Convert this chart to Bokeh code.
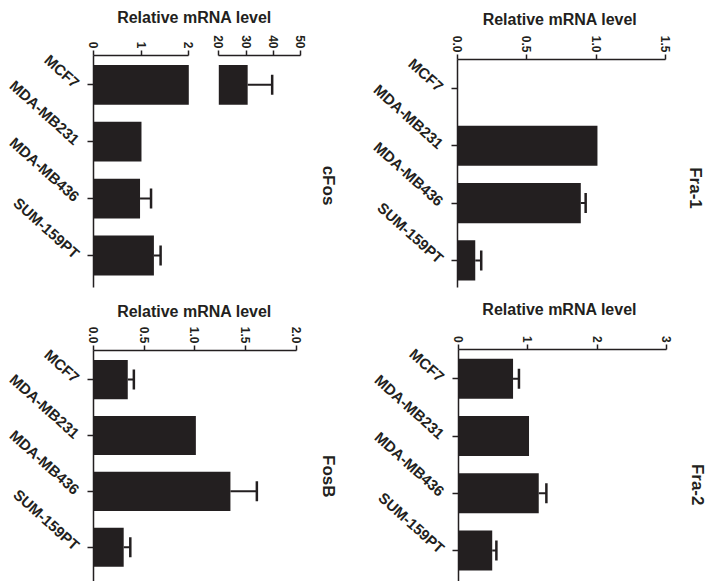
import numpy as np
from bokeh.plotting import figure
from bokeh.models import (Range1d, LinearAxis, FixedTicker, Whisker, ColumnDataSource,
                          TeeHead, NumeralTickFormatter, Label)
from bokeh.layouts import row, column
from bokeh.embed import file_html
from bokeh.resources import INLINE

# ---------------- data ----------------
cells = ["MCF7", "MDA-MB231", "MDA-MB436", "SUM-159PT"]

fra1_mean = [0.0, 1.01, 0.89, 0.13]
fra1_err = [0.0, 0.0, 0.035, 0.043]
fra1_ticks = [0.0, 0.5, 1.0, 1.5]

fra2_mean = [0.79, 1.02, 1.16, 0.49]
fra2_err = [0.085, 0.0, 0.11, 0.06]
fra2_ticks = [0, 1, 2, 3]

cfos_mean = [30.6, 1.01, 0.98, 1.27]
cfos_err = [9.0, 0.0, 0.23, 0.14]
cfos_ticks_low = [0, 1, 2]
cfos_ticks_high = [20, 30, 40, 50]
cfos_break = (2, 20)

fosb_mean = [0.34, 1.01, 1.35, 0.30]
fosb_err = [0.06, 0.0, 0.26, 0.065]
fosb_ticks = [0.0, 0.5, 1.0, 1.5, 2.0]

axis_title = "Relative mRNA level"
panel_titles = ["cFos", "FosB", "Fra-1", "Fra-2"]

# ---------------- style ----------------
FONT = "Liberation Sans"
INK = "#231f20"
BAR_H = 0.7
ypos = list(range(len(cells)))


def style_axis_common(ax):
    ax.major_label_text_font = FONT
    ax.major_label_text_font_style = "bold"
    ax.major_label_text_color = INK
    ax.major_tick_in = 0
    ax.minor_tick_out = 0
    ax.minor_tick_in = 0
    ax.axis_line_width = 1.5
    ax.major_tick_line_width = 1.5
    ax.axis_line_color = INK
    ax.major_tick_line_color = INK


def style_value_axis(ax, ticks, fmt):
    style_axis_common(ax)
    ax.ticker = FixedTicker(ticks=ticks)
    ax.formatter = NumeralTickFormatter(format=fmt)
    ax.major_label_orientation = -np.pi / 2
    ax.major_label_text_font_size = "12px"
    ax.major_label_standoff = 2
    ax.major_tick_out = 5


def style_cat_axis(ax):
    style_axis_common(ax)
    ax.ticker = FixedTicker(ticks=ypos)
    ax.major_label_overrides = {i: c for i, c in enumerate(cells)}
    ax.major_label_orientation = -0.733
    ax.major_label_text_font_size = "15px"
    ax.major_label_standoff = 10
    ax.major_tick_out = 6


class Panel:
    """A figure whose frame covers the whole canvas; axes are pinned with fixed_location."""

    def __init__(self, width, height, x0, x_end_px, x_end_val, axis_y, spacing, pad, cat_bottom):
        self.x0, self.axis_y, self.spacing, self.pad = x0, axis_y, spacing, pad
        self.upp = x_end_val / (x_end_px - x0)
        p = figure(width=width, height=height, output_backend="svg", toolbar_location=None,
                   x_axis_location="above",
                   x_range=Range1d(self.dx(0), self.dx(width)),
                   y_range=Range1d(self.dy(height), self.dy(0)),
                   min_border=0)
        p.grid.visible = False
        p.outline_line_color = None
        p.background_fill_color = None
        p.border_fill_color = None
        yax = p.yaxis[0]
        style_cat_axis(yax)
        yax.fixed_location = 0
        yax.bounds = (-pad, self.dy(cat_bottom))
        self.p = p

    def dx(self, px):
        return (px - self.x0) * self.upp

    def dy(self, py):
        return -self.pad + (py - self.axis_y) / self.spacing

    def label(self, text, px, py, size, angle=0.0, **kw):
        self.p.add_layout(Label(x=self.dx(px), y=self.dy(py), text=text, angle=angle,
                                text_align="center", text_baseline="middle",
                                text_font=FONT, text_font_style="bold",
                                text_font_size=size, text_color=INK, **kw))

    def titles(self, name, title_xy, name_xy):
        self.label(axis_title, title_xy[0], title_xy[1], "16px")
        self.label(name, name_xy[0], name_xy[1], "17px", angle=-np.pi / 2)


def add_errors(p, idx, mean, err, **kw):
    keep = [i for i in idx if err[i] > 0]
    src = ColumnDataSource(dict(base=[ypos[i] for i in keep],
                                lo=[mean[i] for i in keep],
                                hi=[mean[i] + err[i] for i in keep]))
    w = Whisker(source=src, base="base", lower="lo", upper="hi", dimension="width",
                line_color=INK, line_width=2, lower_head=None,
                upper_head=TeeHead(size=20, line_color=INK, line_width=2.5), **kw)
    p.add_layout(w)


def simple_panel(geom, ticks, fmt, mean, err, name, title_xy, name_xy):
    w, h, x0, x_end_px, axis_y, spacing, pad, cat_bottom = geom
    pn = Panel(w, h, x0, x_end_px, ticks[-1], axis_y, spacing, pad, cat_bottom)
    p = pn.p
    ax = p.xaxis[0]
    style_value_axis(ax, ticks, fmt)
    ax.fixed_location = -pad
    ax.bounds = (ticks[0], ticks[-1])
    p.hbar(y=ypos, left=0, right=mean, height=BAR_H, fill_color=INK, line_color=None)
    add_errors(p, ypos, mean, err)
    pn.titles(name, title_xy, name_xy)
    return p


# ---------------- cFos (broken value axis) ----------------
lo_b, hi_b = cfos_break
cf = Panel(360, 300, 92.7, 188.3, lo_b, 55, 56.9, 0.515, 286.7)
pc = cf.p
ax_lo = pc.xaxis[0]
style_value_axis(ax_lo, cfos_ticks_low, "0")
ax_lo.bounds = (cfos_ticks_low[0], lo_b)
ax_lo.fixed_location = -cf.pad

hi_px0, hi_px1 = 218.3, 300.0        # pixel span of the upper segment
hi_upp = (cfos_ticks_high[-1] - hi_b) / (hi_px1 - hi_px0)
pc.extra_x_ranges = {"seg2": Range1d(hi_b - hi_px0 * hi_upp, hi_b + (360 - hi_px0) * hi_upp)}
ax_hi = LinearAxis(x_range_name="seg2", bounds=(hi_b, cfos_ticks_high[-1]),
                   fixed_location=-cf.pad)
style_value_axis(ax_hi, cfos_ticks_high, "0")
pc.add_layout(ax_hi, "above")

hi_idx = [i for i in ypos if cfos_mean[i] > hi_b]
pc.hbar(y=ypos, left=0, right=[min(v, lo_b) for v in cfos_mean], height=BAR_H,
        fill_color=INK, line_color=None)
pc.hbar(y=[ypos[i] for i in hi_idx], left=hi_b, right=[cfos_mean[i] for i in hi_idx],
        height=BAR_H, fill_color=INK, line_color=None, x_range_name="seg2")
add_errors(pc, [i for i in ypos if cfos_mean[i] <= lo_b], cfos_mean, cfos_err)
add_errors(pc, hi_idx, cfos_mean, cfos_err, x_range_name="seg2")
cf.titles(panel_titles[0], (194, 17.2), (328.3, 185))

# ---------------- other panels ----------------
# geometry: width, height, x of 0, x of last tick, axis y, category spacing, pad, axis bottom
pb = simple_panel((360, 281, 92.7, 296, 50, 55.9, 0.52, 281), fosb_ticks, "0.0",
                  fosb_mean, fosb_err, panel_titles[1], (194, 11), (328.3, 175.8))
p1 = simple_panel((354, 300, 96.7, 305, 59, 57.3, 0.506, 286.7), fra1_ticks, "0.0",
                  fra1_mean, fra1_err, panel_titles[2], (199.5, 19.2), (335, 187.5))
p2 = simple_panel((354, 281, 97.7, 306, 49.3, 57.2, 0.507, 281), fra2_ticks, "0",
                  fra2_mean, fra2_err, panel_titles[3], (199.2, 9.2), (336.7, 184.2))

layout = row(column(pc, pb), column(p1, p2))

open("out.html", "w").write(file_html(layout, INLINE))
